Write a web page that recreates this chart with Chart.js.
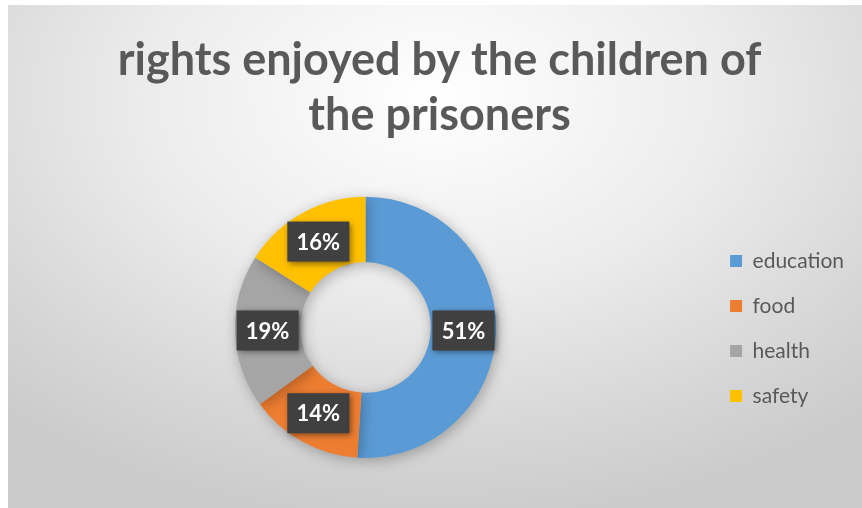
<!DOCTYPE html>
<html>
<head>
<meta charset="utf-8">
<script src="https://cdn.jsdelivr.net/npm/chart.js@4/dist/chart.umd.min.js"></script>
<style>
  html, body { margin: 0; padding: 0; background: #ffffff; }
  #frame {
    position: absolute; left: 8px; top: 5px; width: 854px; height: 503px;
    background: radial-gradient(ellipse 75% 85% at 50% 18%, #ffffff 0%, #ececec 45%, #d6d6d6 80%, #cbcbcb 100%);
  }
  canvas { display: block; }
</style>
</head>
<body>
<div id="frame"><canvas id="c" width="854" height="503"></canvas></div>
<script>
const categories = ["education", "food", "health", "safety"];
const values = [51, 14, 19, 16];
const valueLabels = ["51%", "14%", "19%", "16%"];
const colors = ["#5B9BD5", "#ED7D31", "#A5A5A5", "#FFC000"];
const titleLines = ["rights enjoyed by the children of", "the prisoners"];

const shadowPlugin = {
  id: 'ringShadow',
  beforeDatasetDraw(chart) {
    const ctx = chart.ctx;
    ctx.save();
    ctx.shadowColor = 'rgba(0,0,0,0.28)';
    ctx.shadowBlur = 14;
    ctx.shadowOffsetX = 2;
    ctx.shadowOffsetY = 3;
  },
  afterDatasetDraw(chart) {
    chart.ctx.restore();
  }
};

const boxLabels = {
  id: 'boxLabels',
  afterDatasetsDraw(chart) {
    const ctx = chart.ctx;
    const meta = chart.getDatasetMeta(0);
    ctx.save();
    ctx.font = 'bold 22px Lato, "Open Sans", sans-serif';
    ctx.textAlign = 'center';
    ctx.textBaseline = 'middle';
    meta.data.forEach((arc, i) => {
      const p = arc.tooltipPosition();
      const w = 62, h = 40;
      ctx.save();
      ctx.shadowColor = 'rgba(0,0,0,0.45)';
      ctx.shadowBlur = 6;
      ctx.shadowOffsetX = 2;
      ctx.shadowOffsetY = 2;
      ctx.fillStyle = '#404040';
      ctx.fillRect(p.x - w / 2, p.y - h / 2, w, h);
      ctx.restore();
      ctx.fillStyle = '#ffffff';
      ctx.fillText(valueLabels[i], p.x, p.y + 1);
    });
    ctx.restore();
  }
};

new Chart(document.getElementById('c'), {
  type: 'doughnut',
  data: {
    labels: categories,
    datasets: [{
      data: values,
      backgroundColor: colors,
      borderWidth: 0,
      hoverOffset: 0
    }]
  },
  options: {
    responsive: false,
    animation: false,
    cutout: '50%',
    layout: { padding: { left: 17, right: 8, top: 0, bottom: 50 } },
    plugins: {
      title: {
        display: true,
        text: titleLines,
        color: '#595959',
        font: { family: 'Lato, "Open Sans", sans-serif', size: 45, weight: 'bold', lineHeight: 1.22 },
        padding: { top: 28, bottom: 54 }
      },
      legend: {
        position: 'right',
        align: 'center',
        title: {
          display: true,
          text: '',
          font: { size: 10, lineHeight: 1.2 },
          padding: { top: 182, bottom: 0 }
        },
        labels: {
          boxWidth: 12,
          boxHeight: 12,
          padding: 24,
          color: '#595959',
          font: { family: 'Lato, "Open Sans", sans-serif', size: 21 }
        }
      },
      tooltip: { enabled: false }
    }
  },
  plugins: [shadowPlugin, boxLabels]
});
</script>
</body>
</html>
